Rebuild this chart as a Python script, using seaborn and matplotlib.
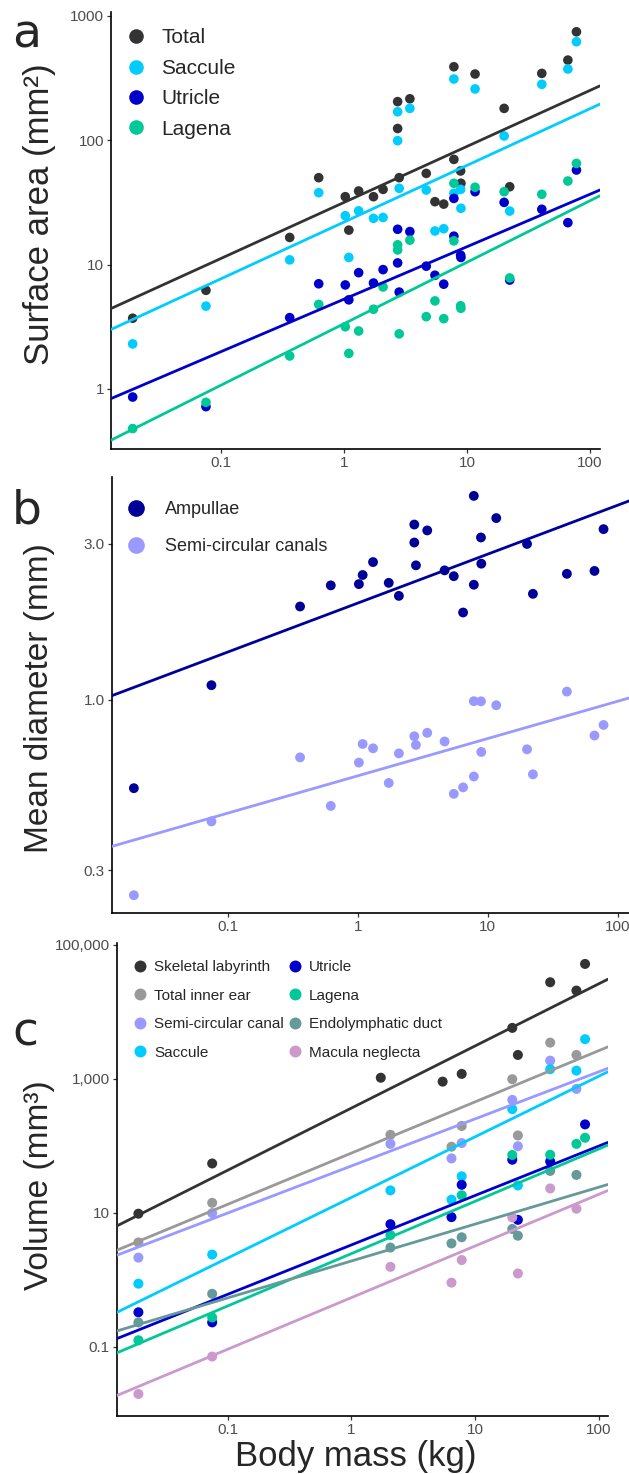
import numpy as np
import pandas as pd
import seaborn as sns
import matplotlib.pyplot as plt
from matplotlib.lines import Line2D

sns.set_theme(style="ticks")
plt.rcParams['font.family'] = ['Liberation Sans', 'DejaVu Sans']

nan = np.nan

# body mass (kg) of each species, panels a and b
mass = [0.019, 0.075, 0.36, 0.62, 1.02, 1.09, 1.31, 1.73, 2.07, 2.72, 2.72, 2.8, 3.42,
        4.65, 5.47, 6.45, 7.8, 7.8, 8.85, 8.9, 11.6, 20, 22.2, 40.5, 66, 77.5]

# panel a: surface area (mm2)
total_area = [3.7, 6.2, 16.5, 49.9, 35.1, 18.9, 39, 35.1, 40.2, 204, 124, 49.9, 215,
              54, 32, 30.6, 389, 70, 56.5, 45, 340, 180, 42.2, 344, 440, 743]
saccule_area = [2.3, 4.63, 10.9, 37.8, 24.7, 11.4, 27, 23.5, 23.9, 169, 99, 41, 180,
                39.7, 18.6, 19.4, 310, 37.4, 40.2, 28.3, 258, 108, 26.9, 281, 373, 618]
utricle_area = [0.86, 0.72, 3.74, 7.0, 6.85, 5.2, 8.6, 7.1, 9.1, 19.2, 10.3, 6.0, 18.4,
                9.7, 8.2, 6.95, 34, 16.9, 11.9, 11.4, 38.5, 31.6, 7.5, 27.8, 21.7, 57.5]
lagena_area = [0.48, 0.78, 1.84, 4.78, 3.16, 1.93, 2.92, 4.37, 6.6, 14.4, 13.1, 2.77, 15.7,
               3.81, 5.1, 3.67, 45, 15.5, 4.66, 4.45, 41.8, 38.5, 7.8, 36.7, 46.9, 65]

# panel b: mean diameter (mm)
ampullae_diam = [0.536, 1.108, 1.93, 2.24, 2.26, 2.41, 2.64, 2.28, 2.08, 3.44, 3.03, 2.58, 3.3,
                 2.49, 2.39, 1.85, 4.21, 2.25, 3.14, 2.61, 3.6, 3.0, 2.11, 2.43, 2.48, 3.33]
canal_diam = [0.252, 0.424, 0.666, 0.473, 0.642, 0.732, 0.71, 0.556, 0.685, 0.773, nan, 0.727,
              0.792, 0.745, 0.515, 0.539, 0.99, 0.582, 0.989, 0.692, 0.962, 0.705, 0.591,
              1.059, 0.777, 0.837]

# panel c: volume (mm3), fewer species
c_mass = [0.019, 0.075, 1.73, 2.07, 5.47, 6.45, 7.8, 20, 22.2, 40.5, 66, 77.5]
skeletal_vol = [9.7, 54.5, 1040, nan, 909, nan, 1186, 5770, 2275, 27700, 20800, 52000]
inner_ear_vol = [3.61, 14.1, nan, 146, nan, 97, 198, 988, 143, 3475, 2275, nan]
canal_vol = [2.14, 9.9, nan, 107, nan, 64.9, 110, 485, 98.6, 1870, 708, nan]
saccule_vol = [0.875, 2.38, nan, 21.6, nan, 15.7, 35.1, 353, 25.6, 1393, 1327, 3910]
utricle_vol = [0.327, 0.231, nan, 6.76, nan, 8.62, 26.2, 62, 7.85, 58.5, nan, 209]
lagena_vol = [0.125, 0.274, nan, 4.66, nan, nan, 18.3, 73, nan, 73.6, 107, 132]
endo_vol = [0.231, 0.617, nan, 3.03, nan, 3.49, 4.31, 5.74, 4.55, 42.2, 36.8, nan]
macula_vol = [0.0197, 0.0714, nan, 1.56, nan, 0.906, 1.97, 8.53, 1.24, 23.1, 11.5, nan]

# fitted lines: log10(y) = intercept + slope * log10(mass)
a_slopes = [0.450, 0.4555, 0.4216, 0.494]
a_intercepts = [1.50, 1.342, 0.722, 0.525]
b_slopes = [0.150, 0.1143]
b_intercepts = [0.296, -0.233]
c_slopes = [0.928, 0.765, 0.703, 0.905, 0.738, 0.7815, 0.551, 0.771]
c_intercepts = [2.563, 1.891, 1.699, 1.229, 0.52, 0.390, 0.280, -0.267]

a_labels = ['Total', 'Saccule', 'Utricle', 'Lagena']
a_colors = ['#333333', '#00CCFF', '#0000CC', '#00C896']
b_labels = ['Ampullae', 'Semi-circular canals']
b_colors = ['#000099', '#9999FF']
c_labels = ['Skeletal labyrinth', 'Total inner ear', 'Semi-circular canal', 'Saccule',
            'Utricle', 'Lagena', 'Endolymphatic duct', 'Macula neglecta']
c_colors = ['#333333', '#999999', '#9999FF', '#00CCFF', '#0000CC', '#00C896',
            '#669999', '#CC99CC']


def long_table(x, series, labels):
    return pd.DataFrame({
        'mass': list(x) * len(series),
        'value': [v for s in series for v in s],
        'structure': [lab for lab, s in zip(labels, series) for _ in s],
    }).dropna()


def draw_panel(ax, df, labels, colors, slopes, icepts, xlim, ylim, size):
    ax.set_xscale('log')
    ax.set_yscale('log')
    sns.scatterplot(data=df, x='mass', y='value', hue='structure', hue_order=labels,
                    palette=dict(zip(labels, colors)), s=size, linewidth=0,
                    legend=False, ax=ax, zorder=2)
    lx = np.linspace(np.log10(xlim[0]), np.log10(xlim[1]), 60)
    for m, b, c in zip(slopes, icepts, colors):
        ax.plot(10 ** lx, 10 ** (b + m * lx), color=c, lw=2.0, zorder=3)
    ax.set_xlim(xlim)
    ax.set_ylim(ylim)
    ax.set_xlabel('')
    ax.set_ylabel('')
    ax.set_xticks([0.1, 1, 10, 100], ['0.1', '1', '10', '100'])
    ax.minorticks_off()
    sns.despine(ax=ax)
    for sp in ['left', 'bottom']:
        ax.spines[sp].set_color('black')
        ax.spines[sp].set_linewidth(1.2)
    ax.tick_params(length=3, width=0.9, color='#333333', labelcolor='#4d4d4d',
                   labelsize=11, pad=2)


def add_legend(ax, labels, colors, msize, fs, anchor, ncol=1, **kw):
    handles = [Line2D([], [], ls='', marker='o', markersize=msize, markeredgewidth=0,
                      color=c) for c in colors]
    ax.legend(handles, labels, loc='upper left', bbox_to_anchor=anchor, frameon=False,
              fontsize=fs, ncol=ncol, borderpad=0, borderaxespad=0, **kw)


fig = plt.figure(figsize=(6.29, 14.74), dpi=100)
ax_a = fig.add_axes([0.1766, 0.6952, 0.7773, 0.2968])
ax_b = fig.add_axes([0.1777, 0.3806, 0.8223, 0.2960])
ax_c = fig.add_axes([0.1859, 0.0394, 0.7805, 0.3207])

df_a = long_table(mass, [total_area, saccule_area, utricle_area, lagena_area], a_labels)
draw_panel(ax_a, df_a, a_labels, a_colors, a_slopes, a_intercepts,
           (0.01268, 120.5), (0.327, 1076), 48)
ax_a.set_yticks([1, 10, 100, 1000], ['1', '10', '100', '1000'])
add_legend(ax_a, a_labels, a_colors, 10.5, 15, (0.03, 0.962),
           handlelength=1.0, handletextpad=0.7, labelspacing=0.55)

df_b = long_table(mass, [ampullae_diam, canal_diam], b_labels)
draw_panel(ax_b, df_b, b_labels, b_colors, b_slopes, b_intercepts,
           (0.01285, 121.6), (0.2223, 4.82), 50)
ax_b.set_yticks([0.3, 1.0, 3.0], ['0.3', '1.0', '3.0'])
add_legend(ax_b, b_labels, b_colors, 12, 13, (0.029, 0.944),
           handlelength=1.0, handletextpad=1.1, labelspacing=1.1)

df_c = long_table(c_mass, [skeletal_vol, inner_ear_vol, canal_vol, saccule_vol,
                           utricle_vol, lagena_vol, endo_vol, macula_vol], c_labels)
draw_panel(ax_c, df_c, c_labels, c_colors, c_slopes, c_intercepts,
           (0.01274, 118.5), (0.00927, 106000), 52)
ax_c.set_yticks([0.1, 10, 1000, 100000], ['0.1', '10', '1,000', '100,000'])
add_legend(ax_c, c_labels, c_colors, 8.6, 11, (0.032, 0.964), ncol=2,
           handlelength=1.0, handletextpad=0.4, labelspacing=0.95, columnspacing=0.25)

# axis titles and panel letters
fig.text(40 / 629, 1 - 214 / 1474, 'Surface area (mm²)', rotation=90,
         ha='center', va='center', fontsize=25)
fig.text(40 / 629, 1 - 698 / 1474, 'Mean diameter (mm)', rotation=90,
         ha='center', va='center', fontsize=24)
fig.text(40 / 629, 1 - 1185 / 1474, 'Volume (mm³)', rotation=90,
         ha='center', va='center', fontsize=24)
fig.text(356 / 629, 1 - 1466 / 1474, 'Body mass (kg)', ha='center', va='baseline',
         fontsize=25)
for letter, base in [('a', 48), ('b', 524), ('c', 1046)]:
    fig.text(12 / 629, 1 - base / 1474, letter, ha='left', va='baseline',
             fontsize=34, family='DejaVu Sans')

fig.savefig('out.png', dpi=100)
